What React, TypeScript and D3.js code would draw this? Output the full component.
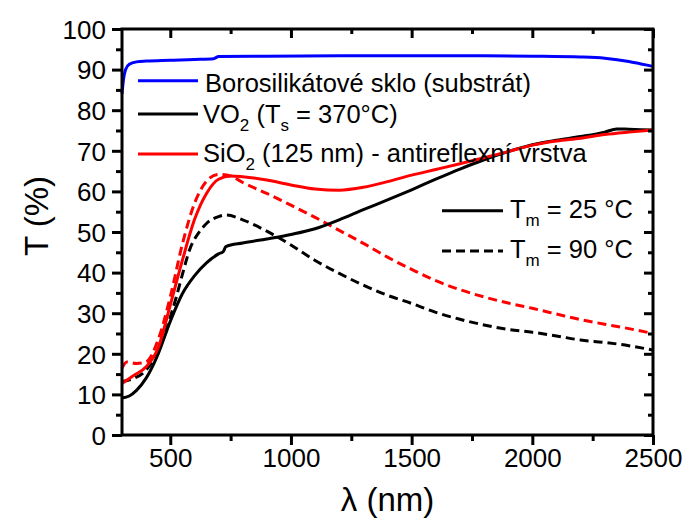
import React, { useRef, useEffect } from 'react';
import * as d3 from 'd3';

// transmittance spectra
const glassL = [300, 305, 315, 330, 360, 400, 500, 600, 680, 700, 900, 1200, 1500, 1800, 2000, 2200, 2300, 2400, 2450, 2500];
const glassT = [84, 87, 90, 91.3, 91.9, 92.1, 92.3, 92.5, 92.7, 93.2, 93.3, 93.4, 93.4, 93.4, 93.3, 93.1, 92.8, 92.0, 91.4, 90.8];

const vo2ColdL = [300, 330, 360, 400, 450, 500, 550, 600, 650, 700, 720, 730, 800, 900, 1000, 1100, 1200, 1300, 1400, 1500, 1600, 1700, 1800, 1900, 2000, 2100, 2200, 2300, 2350, 2400, 2500];
const vo2ColdT = [9.1, 9.6, 11, 14, 20, 28, 34.8, 39.2, 42.4, 44.6, 45.2, 46.4, 47.3, 48.3, 49.4, 50.8, 53.0, 55.5, 57.9, 60.4, 63, 65.5, 67.8, 69.8, 71.5, 72.6, 73.5, 74.6, 75.4, 75.3, 75.1];

const vo2HotL = [300, 350, 386, 430, 469, 500, 525, 550, 580, 620, 650, 700, 732, 800, 900, 1000, 1100, 1200, 1300, 1400, 1500, 1600, 1700, 1800, 1900, 2000, 2100, 2200, 2300, 2400, 2500];
const vo2HotT = [13.1, 14, 15.2, 18.5, 23.4, 29, 34, 39.5, 45.6, 50, 52.1, 53.8, 54.2, 53, 50.2, 46.8, 43, 39.8, 36.9, 34.4, 32.4, 30.2, 28.5, 27.1, 26, 25.3, 24.4, 23.4, 22.8, 22, 20.9];

const sio2ColdL = [300, 350, 400, 450, 500, 550, 600, 650, 700, 750, 800, 900, 1000, 1100, 1200, 1300, 1400, 1500, 1600, 1700, 1800, 1900, 2000, 2100, 2200, 2300, 2400, 2500];
const sio2ColdT = [12.7, 14.7, 16.8, 21.5, 32, 43, 53, 59.5, 63, 63.8, 63.6, 62.8, 61.6, 60.6, 60.3, 61, 62.4, 64, 65.4, 66.8, 68.3, 69.8, 71.4, 72.4, 73.1, 74, 74.6, 75.1];

const sio2HotL = [300, 320, 360, 400, 450, 500, 550, 600, 650, 700, 750, 800, 900, 1000, 1100, 1200, 1300, 1400, 1500, 1600, 1700, 1800, 1900, 2000, 2100, 2200, 2300, 2400, 2500];
const sio2HotT = [16.5, 18, 17.6, 18, 23.5, 34, 47, 57, 62.5, 64.2, 63.8, 62.2, 59.5, 56.6, 53.6, 50.4, 47.2, 43.8, 40.8, 38, 35.8, 34, 32.5, 31.2, 29.8, 28.4, 27.3, 26.2, 25];

const xTicks = [500, 1000, 1500, 2000, 2500];
const xMinor = [750, 1250, 1750, 2250];
const yTicks = [0, 10, 20, 30, 40, 50, 60, 70, 80, 90, 100];
const yMinor = [5, 15, 25, 35, 45, 55, 65, 75, 85, 95];

const FONT = '"Liberation Sans", Arial, sans-serif';

const App = () => {
  const svgRef = useRef<SVGSVGElement>(null);
  const width = 689;
  const height = 518;

  useEffect(() => {
    if (!svgRef.current) return;
    const svg = d3.select(svgRef.current);
    svg.selectAll('*').remove();

    const left = 122, right = 653, top = 29, bottom = 435;
    const x = d3.scaleLinear().domain([300, 2500]).range([left, right]);
    const y = d3.scaleLinear().domain([0, 100]).range([bottom, top]);

    const line = d3.line<[number, number]>()
      .x(d => x(d[0]))
      .y(d => y(d[1]))
      .curve(d3.curveMonotoneX);

    const series = [
      { L: vo2HotL, T: vo2HotT, color: '#000000', dash: '9,5' },
      { L: sio2HotL, T: sio2HotT, color: '#ff0000', dash: '9,5' },
      { L: vo2ColdL, T: vo2ColdT, color: '#000000', dash: null },
      { L: sio2ColdL, T: sio2ColdT, color: '#ff0000', dash: null },
      { L: glassL, T: glassT, color: '#0000ff', dash: null },
    ];

    const plot = svg.append('g');
    series.forEach(s => {
      const pts = s.L.map((l, i) => [l, s.T[i]] as [number, number]);
      plot.append('path')
        .attr('d', line(pts))
        .attr('fill', 'none')
        .attr('stroke', s.color)
        .attr('stroke-width', 3)
        .attr('stroke-dasharray', s.dash)
        .attr('stroke-linejoin', 'round');
    });

    // Axes: bottom/left ticks outward, top/right ticks inward
    const bottomAxis = svg.append('g').attr('transform', `translate(0,${bottom})`)
      .call(d3.axisBottom(x).tickValues(xTicks).tickSize(10).tickPadding(4).tickFormat(d3.format('d')));
    svg.append('g').attr('transform', `translate(0,${bottom})`)
      .call(d3.axisBottom(x).tickValues(xMinor).tickSize(6).tickFormat(() => ''));
    const leftAxis = svg.append('g').attr('transform', `translate(${left},0)`)
      .call(d3.axisLeft(y).tickValues(yTicks).tickSize(10).tickPadding(6).tickFormat(d3.format('d')));
    svg.append('g').attr('transform', `translate(${left},0)`)
      .call(d3.axisLeft(y).tickValues(yMinor).tickSize(6).tickFormat(() => ''));
    svg.append('g').attr('transform', `translate(0,${top})`)
      .call(d3.axisBottom(x).tickValues(xTicks).tickSize(9).tickFormat(() => ''));
    svg.append('g').attr('transform', `translate(0,${top})`)
      .call(d3.axisBottom(x).tickValues(xMinor).tickSize(5).tickFormat(() => ''));
    svg.append('g').attr('transform', `translate(${right},0)`)
      .call(d3.axisLeft(y).tickValues(yTicks).tickSize(9).tickFormat(() => ''));
    svg.append('g').attr('transform', `translate(${right},0)`)
      .call(d3.axisLeft(y).tickValues(yMinor).tickSize(5).tickFormat(() => ''));

    svg.selectAll('.domain').remove();
    svg.selectAll('.tick line').attr('stroke', '#000').attr('stroke-width', 3);
    svg.selectAll('.tick text').attr('fill', '#000').style('font-family', FONT).style('font-size', '26px');
    bottomAxis.selectAll('.tick text').attr('dy', '0.71em');
    leftAxis.selectAll('.tick text').attr('dy', '0.36em');

    svg.append('rect')
      .attr('x', left).attr('y', top)
      .attr('width', right - left).attr('height', bottom - top)
      .attr('fill', 'none').attr('stroke', '#000').attr('stroke-width', 3);

    // Axis titles
    svg.append('text')
      .attr('x', (left + right) / 2).attr('y', 511)
      .attr('text-anchor', 'middle')
      .style('font-family', FONT).style('font-size', '33px')
      .text('λ (nm)');
    svg.append('text')
      .attr('transform', 'translate(48,216) rotate(-90)')
      .attr('text-anchor', 'middle')
      .style('font-family', FONT).style('font-size', '33px')
      .text('T (%)');

    // Legend 1
    const leg = svg.append('g').style('font-family', FONT).style('font-size', '25.5px');
    const legRows = [
      { ly: 80.7, ty: 91.7, color: '#0000ff' },
      { ly: 114, ty: 122.7, color: '#000000' },
      { ly: 154, ty: 161.7, color: '#ff0000' },
    ];
    legRows.forEach(r => {
      leg.append('line')
        .attr('x1', 138).attr('x2', 198).attr('y1', r.ly).attr('y2', r.ly)
        .attr('stroke', r.color).attr('stroke-width', 3);
    });
    leg.append('text').attr('x', 205).attr('y', legRows[0].ty).text('Borosilikátové sklo (substrát)');
    const t2 = leg.append('text').attr('x', 203).attr('y', legRows[1].ty);
    t2.append('tspan').text('VO');
    t2.append('tspan').attr('dy', 8).style('font-size', '17px').text('2');
    t2.append('tspan').attr('dy', -8).text(' (T');
    t2.append('tspan').attr('dy', 8).style('font-size', '17px').text('s');
    t2.append('tspan').attr('dy', -8).text(' = 370°C)');
    const t3 = leg.append('text').attr('x', 203).attr('y', legRows[2].ty);
    t3.append('tspan').text('SiO');
    t3.append('tspan').attr('dy', 8).style('font-size', '17px').text('2');
    t3.append('tspan').attr('dy', -8).text(' (125 nm) - antireflexní vrstva');

    // Legend 2
    const tmRows = [
      { ly: 210.7, ty: 218.3, dash: null, label: ' = 25 °C' },
      { ly: 251, ty: 258.3, dash: '9,5', label: ' = 90 °C' },
    ];
    tmRows.forEach(r => {
      leg.append('line')
        .attr('x1', 442).attr('x2', 503).attr('y1', r.ly).attr('y2', r.ly)
        .attr('stroke', '#000').attr('stroke-width', 3)
        .attr('stroke-dasharray', r.dash);
      const t = leg.append('text').attr('x', 510).attr('y', r.ty);
      t.append('tspan').text('T');
      t.append('tspan').attr('dy', 8).style('font-size', '17px').text('m');
      t.append('tspan').attr('dy', -8).text(r.label);
    });
  }, []);

  return (
    <div style={{ position: 'absolute', left: 0, top: 0, background: '#fff' }}>
      <svg ref={svgRef} width={width} height={height}></svg>
    </div>
  );
};

export default App;
